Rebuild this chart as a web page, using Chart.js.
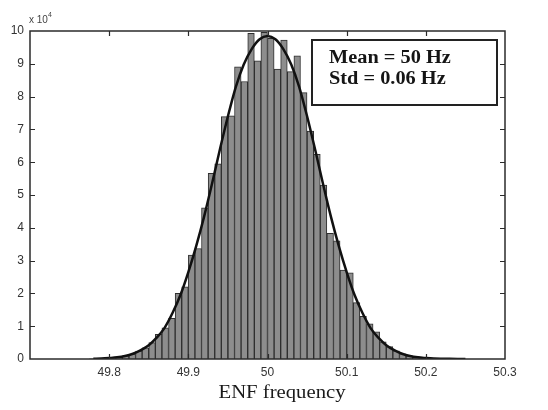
<!DOCTYPE html>
<html>
<head>
<meta charset="utf-8">
<script src="https://cdn.jsdelivr.net/npm/chart.js@4.4.1/dist/chart.umd.min.js"></script>
<style>
  html, body { margin: 0; padding: 0; background: #ffffff; }
  canvas { display: block; }
</style>
</head>
<body>
<canvas id="enf" width="548" height="410"></canvas>
<script>
// Histogram bins of the ENF measurements (bin centres in Hz, counts in units of 10^4)
const binCenters = [
  49.7792, 49.7875, 49.7958, 49.8042, 49.8125, 49.8208, 49.8292, 49.8375,
  49.8458, 49.8542, 49.8625, 49.8708, 49.8792, 49.8875, 49.8958, 49.9042,
  49.9125, 49.9208, 49.9292, 49.9375, 49.9458, 49.9542, 49.9625, 49.9708,
  49.9792, 49.9875, 49.9958, 50.0042, 50.0125, 50.0208, 50.0292, 50.0375,
  50.0458, 50.0542, 50.0625, 50.0708, 50.0792, 50.0875, 50.0958, 50.1042,
  50.1125, 50.1208, 50.1292, 50.1375, 50.1458, 50.1542, 50.1625, 50.1708,
  50.1792, 50.1875, 50.1958, 50.2042, 50.2125, 50.2208, 50.2292, 50.2375
];
const binCounts = [
  0.005, 0.01, 0.02, 0.04, 0.06, 0.10, 0.15, 0.24,
  0.34, 0.50, 0.75, 0.95, 1.24, 2.00, 2.20, 3.17,
  3.37, 4.61, 5.66, 5.95, 7.39, 7.41, 8.91, 8.46,
  9.93, 9.09, 9.96, 9.78, 8.84, 9.72, 8.76, 9.24,
  8.12, 6.95, 6.24, 5.30, 3.83, 3.60, 2.71, 2.63,
  1.72, 1.30, 1.07, 0.83, 0.52, 0.38, 0.25, 0.16,
  0.10, 0.07, 0.05, 0.03, 0.02, 0.01, 0.006, 0.004
];

// Fitted normal curve, sampled every 0.01 Hz
const fitX = [
  49.78, 49.79, 49.80, 49.81, 49.82, 49.83, 49.84, 49.85, 49.86, 49.87,
  49.88, 49.89, 49.90, 49.91, 49.92, 49.93, 49.94, 49.95, 49.96, 49.97,
  49.98, 49.99, 50.00, 50.01, 50.02, 50.03, 50.04, 50.05, 50.06, 50.07,
  50.08, 50.09, 50.10, 50.11, 50.12, 50.13, 50.14, 50.15, 50.16, 50.17,
  50.18, 50.19, 50.20, 50.21, 50.22, 50.23, 50.24, 50.25
];
const fitY = [
  0.008, 0.015, 0.03, 0.05, 0.09, 0.16, 0.27, 0.42, 0.65, 0.95,
  1.40, 1.95, 2.65, 3.45, 4.35, 5.35, 6.40, 7.40, 8.30, 8.98,
  9.45, 9.75, 9.85, 9.75, 9.45, 8.98, 8.30, 7.40, 6.40, 5.35,
  4.35, 3.45, 2.65, 1.95, 1.40, 0.95, 0.65, 0.42, 0.27, 0.16,
  0.09, 0.05, 0.03, 0.015, 0.008, 0.004, 0.002, 0.001
];

const xTicks = [49.8, 49.9, 50, 50.1, 50.2, 50.3];
const yTicks = [0, 1, 2, 3, 4, 5, 6, 7, 8, 9, 10];
const statLines = ['Mean = 50 Hz', 'Std = 0.06 Hz'];
const xTitle = 'ENF frequency';
const yExponent = ['x 10', '4'];

const SERIF = '"Liberation Serif", "Times New Roman", serif';
const SANS = '"Liberation Sans", Arial, Helvetica, sans-serif';

Chart.defaults.font.family = SANS;

// Draws a string stretched horizontally (the figure uses wide lettering)
function wideText(ctx, text, x, y, stretch, align) {
  ctx.save();
  ctx.translate(x, y);
  ctx.scale(stretch, 1);
  ctx.textAlign = align;
  ctx.fillText(text, 0, 0);
  ctx.restore();
}

const framePlugin = {
  id: 'frame',
  beforeDraw(chart) {
    const ctx = chart.ctx;
    ctx.save();
    ctx.fillStyle = '#ffffff';
    ctx.fillRect(0, 0, chart.width, chart.height);
    ctx.restore();
  },
  afterDatasetsDraw(chart) {
    const { ctx, chartArea: a, scales } = chart;
    const xs = scales.x, ys = scales.y;
    ctx.save();
    ctx.strokeStyle = '#2b2b2b';
    ctx.lineWidth = 1.5;
    ctx.strokeRect(a.left, a.top, a.right - a.left, a.bottom - a.top);

    // inward tick marks on all four sides
    ctx.lineWidth = 1.2;
    ctx.beginPath();
    xTicks.forEach(v => {
      const px = Math.round(xs.getPixelForValue(v)) + 0.5;
      if (px > a.right - 2) return;
      ctx.moveTo(px, a.bottom); ctx.lineTo(px, a.bottom - 5);
      ctx.moveTo(px, a.top); ctx.lineTo(px, a.top + 5);
    });
    yTicks.forEach(v => {
      const py = Math.round(ys.getPixelForValue(v)) + 0.5;
      if (py < a.top + 2 || py > a.bottom - 2) return;
      ctx.moveTo(a.left, py); ctx.lineTo(a.left + 5, py);
      ctx.moveTo(a.right, py); ctx.lineTo(a.right - 5, py);
    });
    ctx.stroke();

    // statistics box
    const bx = 312, by = 40, bw = 185, bh = 65;
    ctx.fillStyle = '#ffffff';
    ctx.fillRect(bx, by, bw, bh);
    ctx.strokeStyle = '#222222';
    ctx.lineWidth = 2;
    ctx.strokeRect(bx, by, bw, bh);
    ctx.fillStyle = '#151515';
    ctx.font = 'bold 18px ' + SERIF;
    ctx.textBaseline = 'alphabetic';
    wideText(ctx, statLines[0], 329, 63, 1.13, 'left');
    wideText(ctx, statLines[1], 329, 84, 1.13, 'left');
    ctx.restore();
  },
  afterDraw(chart) {
    const { ctx, chartArea: a } = chart;
    ctx.save();
    // axis title
    ctx.fillStyle = '#1a1a1a';
    ctx.font = '18px ' + SERIF;
    ctx.textBaseline = 'alphabetic';
    wideText(ctx, xTitle, 282, 398, 1.15, 'center');
    // y multiplier
    ctx.fillStyle = '#444444';
    ctx.font = '10px ' + SANS;
    ctx.textAlign = 'left';
    ctx.fillText(yExponent[0], a.left - 1, 23);
    ctx.font = '7px ' + SANS;
    ctx.fillText(yExponent[1], a.left + 18, 17);
    ctx.restore();
  }
};

new Chart(document.getElementById('enf'), {
  type: 'bar',
  data: {
    datasets: [
      {
        type: 'line',
        label: 'Normal fit',
        data: fitX.map((x, i) => ({ x, y: fitY[i] })),
        borderColor: '#111111',
        borderWidth: 2.5,
        pointRadius: 0,
        fill: false,
        cubicInterpolationMode: 'monotone',
        order: 1
      },
      {
        type: 'bar',
        label: 'Counts',
        data: binCenters.map((x, i) => ({ x, y: binCounts[i] })),
        backgroundColor: '#8d8d8d',
        borderColor: '#2e2e2e',
        borderWidth: 1,
        barPercentage: 1,
        categoryPercentage: 1,
        order: 2
      }
    ]
  },
  options: {
    responsive: false,
    animation: false,
    devicePixelRatio: 1,
    layout: { padding: { left: 0, right: 43, top: 31, bottom: 0 } },
    plugins: { legend: { display: false }, tooltip: { enabled: false } },
    scales: {
      x: {
        type: 'linear',
        min: 49.7,
        max: 50.3,
        offset: false,
        grid: { display: false, drawTicks: false },
        border: { display: false },
        afterBuildTicks(scale) { scale.ticks = xTicks.map(v => ({ value: v })); },
        afterFit(scale) { scale.height = 51; },
        ticks: {
          padding: 6,
          maxRotation: 0,
          autoSkip: false,
          color: '#333333',
          font: { size: 12 },
          callback: v => String(Number(v.toFixed(1)))
        }
      },
      y: {
        min: 0,
        max: 10,
        grid: { display: false, drawTicks: false },
        border: { display: false },
        afterBuildTicks(scale) { scale.ticks = yTicks.map(v => ({ value: v })); },
        afterFit(scale) { scale.width = 30; },
        ticks: {
          padding: 6,
          color: '#333333',
          font: { size: 12 }
        }
      }
    }
  },
  plugins: [framePlugin]
});
</script>
</body>
</html>
